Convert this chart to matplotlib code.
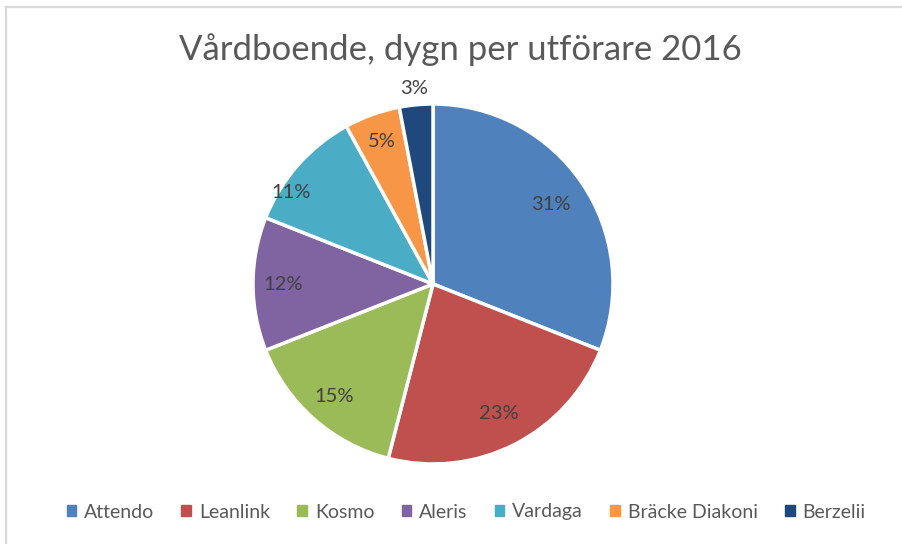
import matplotlib.pyplot as plt
import numpy as np
from matplotlib.lines import Line2D

plt.rcParams["font.family"] = ["Lato", "DejaVu Sans"]

categories = ["Attendo", "Leanlink", "Kosmo", "Aleris", "Vardaga",
              "Bräcke Diakoni", "Berzelii"]
shares = [31, 23, 15, 12, 11, 5, 3]
colors = ["#4F81BD", "#C0504D", "#9BBB59", "#8064A2", "#4BACC6",
          "#F79646", "#1F497D"]

# label radius (fraction of pie radius) and angle shift in degrees
label_r = [0.79, 0.81, 0.83, 0.83, 0.94, 0.84, 1.09]
label_shift = [0, 0, 0, 0, 8.5, 0, 0]

W, H = 903, 544
fig = plt.figure(figsize=(W / 100, H / 100), dpi=100)

# chart frame (only top and left edges visible in the crop)
fig.add_artist(Line2D([6 / W, 6 / W], [0, 1 - 7 / H], color="#D9D9D9",
                      lw=1.6, transform=fig.transFigure))
fig.add_artist(Line2D([6 / W, 1], [1 - 7 / H, 1 - 7 / H], color="#D9D9D9",
                      lw=1.6, transform=fig.transFigure))

cx, cy, r = 433, 284, 180
ax = fig.add_axes([(cx - r) / W, 1 - (cy + r) / H, 2 * r / W, 2 * r / H])
wedges, _ = ax.pie(shares, colors=colors, startangle=90, counterclock=False,
                   wedgeprops=dict(edgecolor="white", linewidth=2.5))
ax.set_xlim(-1, 1)
ax.set_ylim(-1, 1)
ax.set_aspect("equal")
ax.axis("off")

total = sum(shares)
cum = 0
for v, lr, sh in zip(shares, label_r, label_shift):
    mid = 90 - 360 * (cum + v / 2) / total + sh
    cum += v
    a = np.deg2rad(mid)
    ax.text(lr * np.cos(a), lr * np.sin(a), f"{v}%", ha="center",
            va="center", fontsize=14.5, color="#404040")

fig.text(460 / W, 1 - 50 / H, "Vårdboende, dygn per utförare 2016",
         ha="center", va="center", fontsize=25, color="#595959")

handles = [plt.Rectangle((0, 0), 1, 1, color=c) for c in colors]
fig.legend(handles, categories, loc="center", bbox_to_anchor=(466 / W, 1 - 512 / H),
           ncol=7, frameon=False, fontsize=14, handlelength=0.5,
           handleheight=0.5, handletextpad=0.4, columnspacing=1.4,
           labelcolor="#595959")

fig.savefig("out.png", dpi=100)
